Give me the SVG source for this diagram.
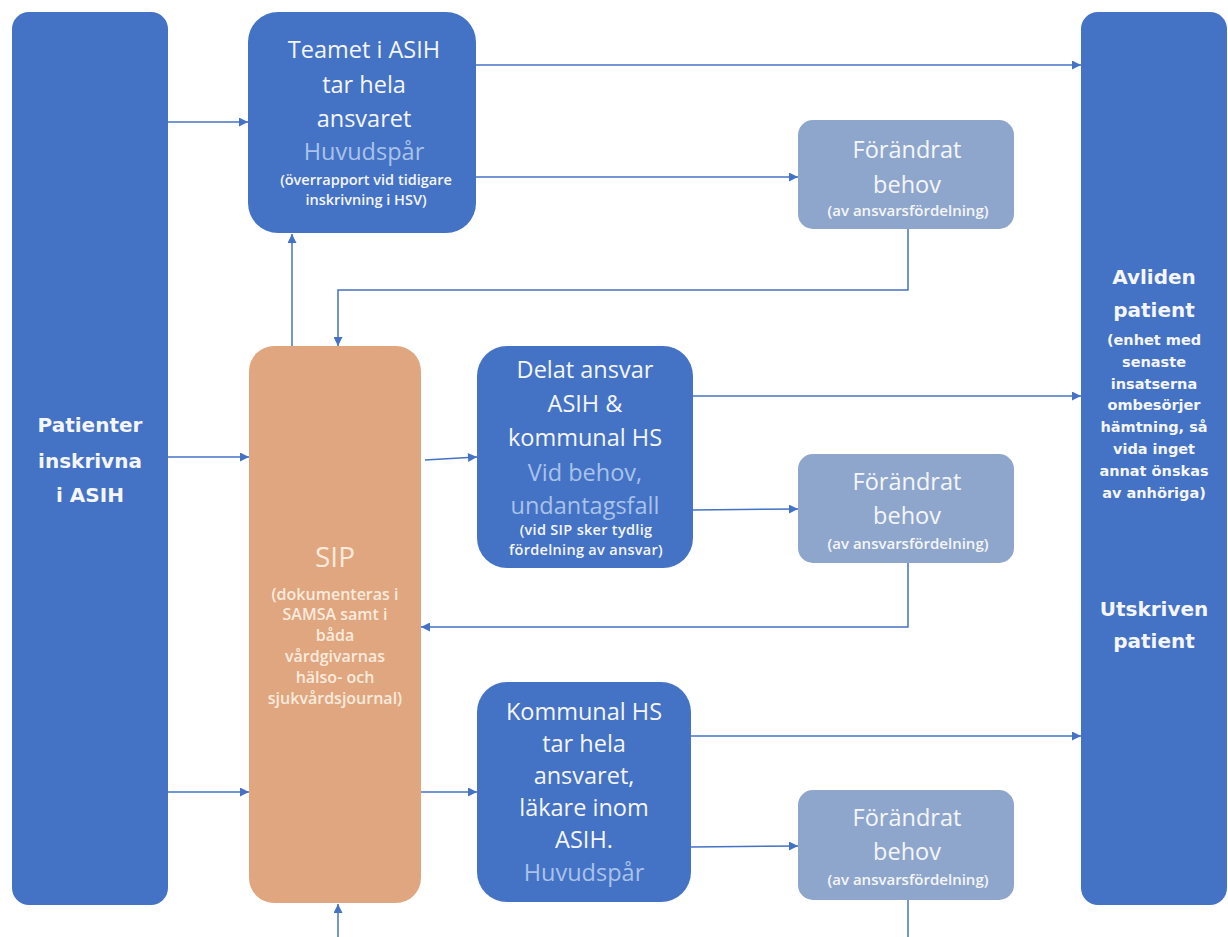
<svg xmlns="http://www.w3.org/2000/svg" width="1228" height="937" viewBox="0 0 1228 937">
<defs>
<marker id="ah" viewBox="0 0 10 10" refX="10" refY="5" markerWidth="10" markerHeight="9" markerUnits="userSpaceOnUse" orient="auto">
<path d="M0,0 L10,5 L0,10 z" fill="#4472C4"/>
</marker>
<style>
.dk{fill:#4472C4;}
.lt{fill:#8FA6CC;}
.sip{fill:#E0A680;}
.ln{fill:none;stroke:#4472C4;stroke-width:1.5;}
text{text-anchor:middle;font-family:"Open Sans","Liberation Sans",sans-serif;fill:#F4F6FA;}
.big{font-size:23.5px;}
.sm{font-size:14.5px;font-weight:600;}
.fs{font-size:15px;font-weight:600;}
.hv{fill:#A9C3EA;}
.side{font-family:"DejaVu Sans",Verdana,sans-serif;font-weight:bold;}
.sb{font-size:20px;}
.ss{font-size:14.5px;}
.sipt{fill:#FBEBDD;}
.sips{font-size:16px;font-weight:600;}
</style>
</defs>
<rect width="1228" height="937" fill="#FFFFFF"/>
<g id="connectors">
<line class="ln" x1="168" y1="122" x2="248" y2="122" marker-end="url(#ah)"/>
<line class="ln" x1="168" y1="457" x2="249" y2="457" marker-end="url(#ah)"/>
<line class="ln" x1="168" y1="792" x2="249" y2="792" marker-end="url(#ah)"/>
<line class="ln" x1="476" y1="65" x2="1081" y2="65" marker-end="url(#ah)"/>
<line class="ln" x1="476" y1="177" x2="798" y2="177" marker-end="url(#ah)"/>
<polyline class="ln" points="908,229 908,290 338,290 338,346" marker-end="url(#ah)"/>
<line class="ln" x1="292" y1="346" x2="292" y2="234" marker-end="url(#ah)"/>
<line class="ln" x1="425" y1="460" x2="477" y2="457" marker-end="url(#ah)"/>
<line class="ln" x1="693" y1="396" x2="1081" y2="396" marker-end="url(#ah)"/>
<line class="ln" x1="693" y1="510" x2="798" y2="509" marker-end="url(#ah)"/>
<polyline class="ln" points="908,563 908,627 421,627" marker-end="url(#ah)"/>
<line class="ln" x1="421" y1="792" x2="477" y2="792" marker-end="url(#ah)"/>
<line class="ln" x1="691" y1="736" x2="1081" y2="736" marker-end="url(#ah)"/>
<line class="ln" x1="691" y1="847" x2="798" y2="846" marker-end="url(#ah)"/>
<line class="ln" x1="908" y1="900" x2="908" y2="937"/>
<line class="ln" x1="338" y1="937" x2="338" y2="904" marker-end="url(#ah)"/>
</g>
<g id="patienter">
<rect class="dk" x="12" y="12" width="156" height="893" rx="17"/>
<text class="side sb" x="90" y="432">Patienter</text>
<text class="side sb" x="90" y="468">inskrivna</text>
<text class="side sb" x="90" y="502">i ASIH</text>
</g>
<g id="teamet">
<rect class="dk" x="248" y="12" width="228" height="221" rx="30"/>
<text class="big" x="364" y="58">Teamet i ASIH</text>
<text class="big" x="364" y="93">tar hela</text>
<text class="big" x="364" y="127">ansvaret</text>
<text class="big hv" x="364" y="160">Huvudspår</text>
<text class="sm" x="366" y="185">(överrapport vid tidigare</text>
<text class="sm" x="366" y="205">inskrivning i HSV)</text>
</g>
<g id="forandrat1">
<rect class="lt" x="798" y="120" width="216" height="109" rx="15"/>
<text class="big" x="907" y="158">Förändrat</text>
<text class="big" x="907" y="193">behov</text>
<text class="fs" x="908" y="216">(av ansvarsfördelning)</text>
</g>
<g id="sip">
<rect class="sip" x="249" y="346" width="172" height="557" rx="25"/>
<text class="sipt" x="335" y="567" style="font-size:28px">SIP</text>
<text class="sipt sips" x="335" y="600">(dokumenteras i</text>
<text class="sipt sips" x="335" y="620">SAMSA samt i</text>
<text class="sipt sips" x="335" y="641">båda</text>
<text class="sipt sips" x="335" y="662">vårdgivarnas</text>
<text class="sipt sips" x="335" y="683">hälso- och</text>
<text class="sipt sips" x="335" y="704">sjukvårdsjournal)</text>
</g>
<g id="delat">
<rect class="dk" x="477" y="346" width="216" height="222" rx="30"/>
<text class="big" x="585" y="378">Delat ansvar</text>
<text class="big" x="585" y="412">ASIH &amp;</text>
<text class="big" x="585" y="446">kommunal HS</text>
<text class="big hv" x="585" y="481">Vid behov,</text>
<text class="big hv" x="585" y="514">undantagsfall</text>
<text class="sm" x="586" y="535" style="letter-spacing:0.3px">(vid SIP sker tydlig</text>
<text class="sm" x="586" y="555" style="letter-spacing:0.3px">fördelning av  ansvar)</text>
</g>
<g id="forandrat2">
<rect class="lt" x="798" y="454" width="216" height="109" rx="15"/>
<text class="big" x="907" y="490">Förändrat</text>
<text class="big" x="907" y="524">behov</text>
<text class="fs" x="908" y="549">(av ansvarsfördelning)</text>
</g>
<g id="kommunal">
<rect class="dk" x="477" y="682" width="214" height="220" rx="30"/>
<text class="big" x="584" y="720">Kommunal HS</text>
<text class="big" x="584" y="752">tar hela</text>
<text class="big" x="584" y="784">ansvaret,</text>
<text class="big" x="584" y="816">läkare inom</text>
<text class="big" x="584" y="848">ASIH.</text>
<text class="big hv" x="584" y="881">Huvudspår</text>
</g>
<g id="forandrat3">
<rect class="lt" x="798" y="790" width="216" height="110" rx="15"/>
<text class="big" x="907" y="826">Förändrat</text>
<text class="big" x="907" y="860">behov</text>
<text class="fs" x="908" y="885">(av ansvarsfördelning)</text>
</g>
<g id="avliden">
<rect class="dk" x="1081" y="12" width="146" height="893" rx="17"/>
<text class="side sb" x="1154" y="284">Avliden</text>
<text class="side sb" x="1154" y="317">patient</text>
<text class="side ss" x="1154" y="345">(enhet med</text>
<text class="side ss" x="1154" y="367">senaste</text>
<text class="side ss" x="1154" y="389">insatserna</text>
<text class="side ss" x="1154" y="410">ombesörjer</text>
<text class="side ss" x="1154" y="432">hämtning, så</text>
<text class="side ss" x="1154" y="454">vida inget</text>
<text class="side ss" x="1154" y="476">annat önskas</text>
<text class="side ss" x="1154" y="498">av anhöriga)</text>
<text class="side sb" x="1154" y="616">Utskriven</text>
<text class="side sb" x="1154" y="648">patient</text>
</g>
</svg>
